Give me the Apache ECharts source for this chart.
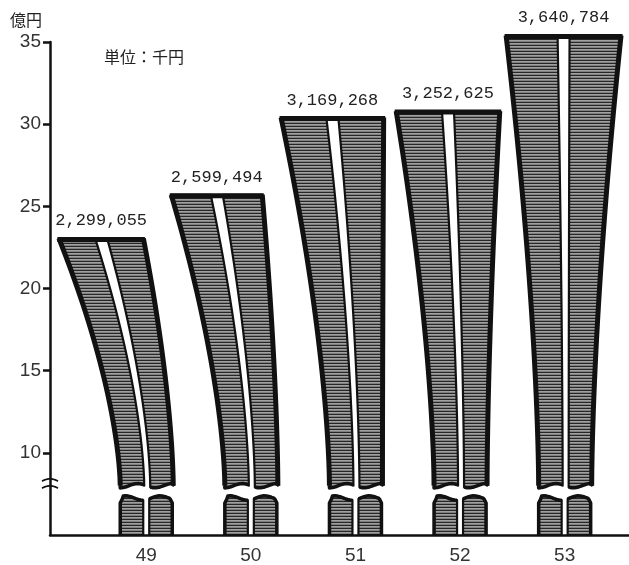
<!DOCTYPE html>
<html><head><meta charset="utf-8">
<script src="https://cdn.jsdelivr.net/npm/echarts@6/dist/echarts.min.js"></script>
<style>html,body{margin:0;padding:0;background:#fff}#c{width:629px;height:565px}</style>
</head><body><div id="c"></div>
<script>
// ---- data ----
const categories = ['49', '50', '51', '52', '53'];
// value labels as printed (thousand yen)
const valueLabels = ['2,299,055', '2,599,494', '3,169,268', '3,252,625', '3,640,784'];
// bar heights as drawn in the picture (億円)
const barHeights = [23.05, 25.7, 30.4, 30.8, 35.4];
const yTickLabels = [10, 15, 20, 25, 30, 35];
const yUnitText = '億円';
const unitNoteText = '単位：千円';

// ---- style constants ----
const X_MIN = 48.08, X_MAX = 53.615;
const Y_MIN = 5, Y_MAX = 35;
const CUT_HI = 8.0;   // bottom of upper piece (value units)
const CUT_LO = 7.25;  // top of lower stub (value units)
const BREAK_MARK = 8.1;

function makePattern() {
  const cv = document.createElement('canvas');
  cv.width = 4; cv.height = 3;
  const g = cv.getContext('2d');
  g.fillStyle = '#262626'; g.fillRect(0, 0, 4, 1);
  g.fillStyle = '#a0a0a0'; g.fillRect(0, 1, 4, 1);
  g.fillStyle = '#808080'; g.fillRect(0, 2, 4, 1);
  return cv;
}
const stripe = { image: makePattern(), repeat: 'repeat' };

const seriesData = categories.map((c, i) => [Number(c), barHeights[i], i]);

function renderBar(params, api) {
  const yr = api.value(0), v = api.value(1);
  const idx = params.dataIndex;
  const b = api.coord([yr, Y_MIN]);
  const c = b[0], yBase = b[1];
  const yTop = api.coord([yr, v])[1];
  const yCut = api.coord([yr, CUT_HI])[1];
  const yStub = api.coord([yr, CUT_LO])[1];
  const h = yBase - yTop;
  const topW = 40 + 0.15 * h;
  const skew = (idx - 4.1) * 11;
  const cT = c + skew;
  const xTL = cT - topW / 2, xTR = cT + topW / 2;
  const xBL = c - 26, xBR = c + 27;
  const cB = c + 1;
  const gT = 6, gB = 3;
  const P = 1.6;
  function ex(xTop, xBot, y) {
    const s = (yCut - y) / (yCut - yTop);
    return xBot + (xTop - xBot) * Math.pow(Math.max(0, s), P);
  }
  function wave(x, y0, ph) { return y0 + 2.2 * Math.sin((x - c) / 5.5 + ph); }
  const N = 30;
  const leftHalf = [], rightHalf = [], outerL = [], outerR = [];
  for (let k = 0; k <= N; k++) { const y = yTop + (yCut - yTop) * k / N; const p = [ex(xTL, xBL, y), y]; leftHalf.push(p); outerL.push(p); }
  for (let k = 0; k <= 8; k++) { const x = xBL + ((cB - gB) - xBL) * k / 8; leftHalf.push([x, wave(x, yCut, 0)]); }
  for (let k = N; k >= 0; k--) { const y = yTop + (yCut - yTop) * k / N; leftHalf.push([ex(cT - gT, cB - gB, y), y]); }
  for (let k = 0; k <= N; k++) { const y = yTop + (yCut - yTop) * k / N; rightHalf.push([ex(cT + gT, cB + gB, y), y]); }
  for (let k = 0; k <= 8; k++) { const x = (cB + gB) + (xBR - (cB + gB)) * k / 8; rightHalf.push([x, wave(x, yCut, 0)]); }
  for (let k = N; k >= 0; k--) { const y = yTop + (yCut - yTop) * k / N; const p = [ex(xTR, xBR, y), y]; rightHalf.push(p); outerR.push(p); }
  const sL = c - 26, sR = c + 26, gS = 3;
  const stubL = [[sL, yBase], [sL, yStub + 5], [sL + 2, yStub + 1]];
  for (let k = 0; k <= 8; k++) { const x = sL + 3 + ((c - gS) - (sL + 3)) * k / 8; stubL.push([x, wave(x, yStub, 2.2)]); }
  stubL.push([c - gS, yBase]);
  const stubR = [[c + gS, yBase]];
  for (let k = 0; k <= 8; k++) { const x = (c + gS) + ((sR - 3) - (c + gS)) * k / 8; stubR.push([x, wave(x, yStub, 2.2)]); }
  stubR.push([sR - 2, yStub + 1], [sR, yStub + 5], [sR, yBase]);

  const halfStyle = { fill: stripe, stroke: '#111', lineWidth: 2.2, lineJoin: 'round' };
  const children = [
    { type: 'polygon', shape: { points: leftHalf }, style: halfStyle },
    { type: 'polygon', shape: { points: rightHalf }, style: halfStyle },
    { type: 'polygon', shape: { points: stubL }, style: halfStyle },
    { type: 'polygon', shape: { points: stubR }, style: halfStyle },
    { type: 'polyline', shape: { points: outerL }, style: { fill: null, stroke: '#111', lineWidth: 5 } },
    { type: 'polyline', shape: { points: outerR }, style: { fill: null, stroke: '#111', lineWidth: 5 } },
    { type: 'polyline', shape: { points: leftHalf.slice(N, N + 10) }, style: { fill: null, stroke: '#111', lineWidth: 3.5, lineJoin: 'round' } },
    { type: 'polyline', shape: { points: rightHalf.slice(N + 1, N + 11) }, style: { fill: null, stroke: '#111', lineWidth: 3.5, lineJoin: 'round' } },
    { type: 'polyline', shape: { points: stubL.slice(0, stubL.length - 1) }, style: { fill: null, stroke: '#111', lineWidth: 3.5, lineJoin: 'round' } },
    { type: 'polyline', shape: { points: stubR.slice(1) }, style: { fill: null, stroke: '#111', lineWidth: 3.5, lineJoin: 'round' } },
    { type: 'line', shape: { x1: xTL - 1.5, y1: yTop + 1, x2: xTR + 1.5, y2: yTop + 1 }, style: { stroke: '#111', lineWidth: 5 } },
    { type: 'text', style: { text: valueLabels[idx], x: cT, y: yTop - 9, align: 'center', verticalAlign: 'bottom', font: '17px "Liberation Mono", monospace', fill: '#222' } }
  ];
  return { type: 'group', children };
}

function renderBreak(params, api) {
  const p = api.coord([api.value(0), api.value(1)]);
  const x0 = p[0], y0 = p[1];
  const mk = (dy) => {
    const pts = [];
    for (let k = 0; k <= 12; k++) { const x = x0 - 8 + 16 * k / 12; pts.push([x, y0 + dy - 2.2 * Math.sin(Math.PI * k / 12)]); }
    return { type: 'polyline', shape: { points: pts }, style: { fill: null, stroke: '#111', lineWidth: 1.8 } };
  };
  return { type: 'group', children: [mk(-3), mk(4)] };
}

const chart = echarts.init(document.getElementById('c'), null, { renderer: 'canvas' });
chart.setOption({
  animation: false,
  backgroundColor: '#fff',
  grid: { left: 50, right: 0, top: 42, bottom: 28, containLabel: false },
  title: [
    { text: yUnitText, left: 5, top: 7, textStyle: { fontSize: 16, fontWeight: 'normal', color: '#222', fontFamily: '"Noto Sans CJK JP", sans-serif' } },
    { text: unitNoteText, left: 99, top: 44, textStyle: { fontSize: 16, fontWeight: 'normal', color: '#222', fontFamily: '"Noto Sans CJK JP", sans-serif' } }
  ],
  xAxis: {
    type: 'value', min: X_MIN, max: X_MAX,
    axisLine: { show: true, lineStyle: { color: '#111', width: 2.5 } },
    axisTick: { show: false },
    splitLine: { show: false },
    axisLabel: { customValues: categories.map(Number), formatter: (v) => String(v), margin: 11, fontSize: 19, color: '#333', fontFamily: '"Liberation Sans", Arial, sans-serif' }
  },
  yAxis: {
    type: 'value', min: Y_MIN, max: Y_MAX, interval: 5,
    axisLine: { show: true, lineStyle: { color: '#111', width: 2.5 } },
    axisTick: { show: true, customValues: yTickLabels, length: 7, lineStyle: { color: '#111', width: 2.5 } },
    splitLine: { show: false },
    axisLabel: { customValues: yTickLabels, margin: 9, fontSize: 19, color: '#333', fontFamily: '"Liberation Sans", Arial, sans-serif' }
  },
  series: [
    { type: 'custom', clip: false, renderItem: renderBar, data: seriesData, encode: { x: 0, y: 1 }, z: 3 },
    { type: 'custom', clip: false, renderItem: renderBreak, data: [[X_MIN, BREAK_MARK]], z: 4, silent: true }
  ]
});
</script>
</body></html>
